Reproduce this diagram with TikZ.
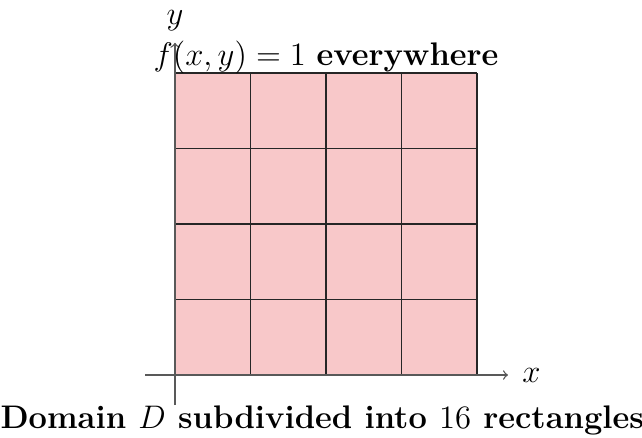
\documentclass[tikz,border=0pt]{standalone}
\begin{document}
\begin{tikzpicture}[x=1.17cm,y=1.17cm,
  cellfill/.style={fill={rgb,255:red,248;green,200;blue,201}},
  gridline/.style={draw=black!85,line width=0.5pt},
  axisline/.style={draw=black!65,line width=0.6pt}]
\useasboundingbox (-2.318,-0.821) rectangle (6.185,4.967);
\fill[cellfill] (0,0) rectangle (4,4);
\foreach \i in {0,...,4} {
  \draw[gridline] (\i,0) -- (\i,4);
  \draw[gridline] (0,\i) -- (4,\i);
}
\coordinate (xs) at (-0.397,0);
\coordinate (xe) at (4.41,0);
\coordinate (ys) at (0,-0.397);
\coordinate (ye) at (0,4.40);
\draw[axisline,->] (xs) -- (xe);
\draw[axisline,->] (ys) -- (ye);
\node (xl) at (4.72,0) {\fontsize{14.4}{17}\selectfont$x$};
\node (yl) at (0.0,4.69) {\fontsize{14.4}{17}\selectfont$y$};
\node[anchor=base,font=\fontsize{14.4}{17}\selectfont] (ftext) at (2.0,4.10) {$f(x,y)=1$ \textbf{everywhere}};
\node[anchor=base,font=\fontsize{14.4}{17}\selectfont] (dtext) at (1.95,-0.71) {\textbf{Domain $D$ subdivided into $16$ rectangles}};
\end{tikzpicture}
\end{document}
